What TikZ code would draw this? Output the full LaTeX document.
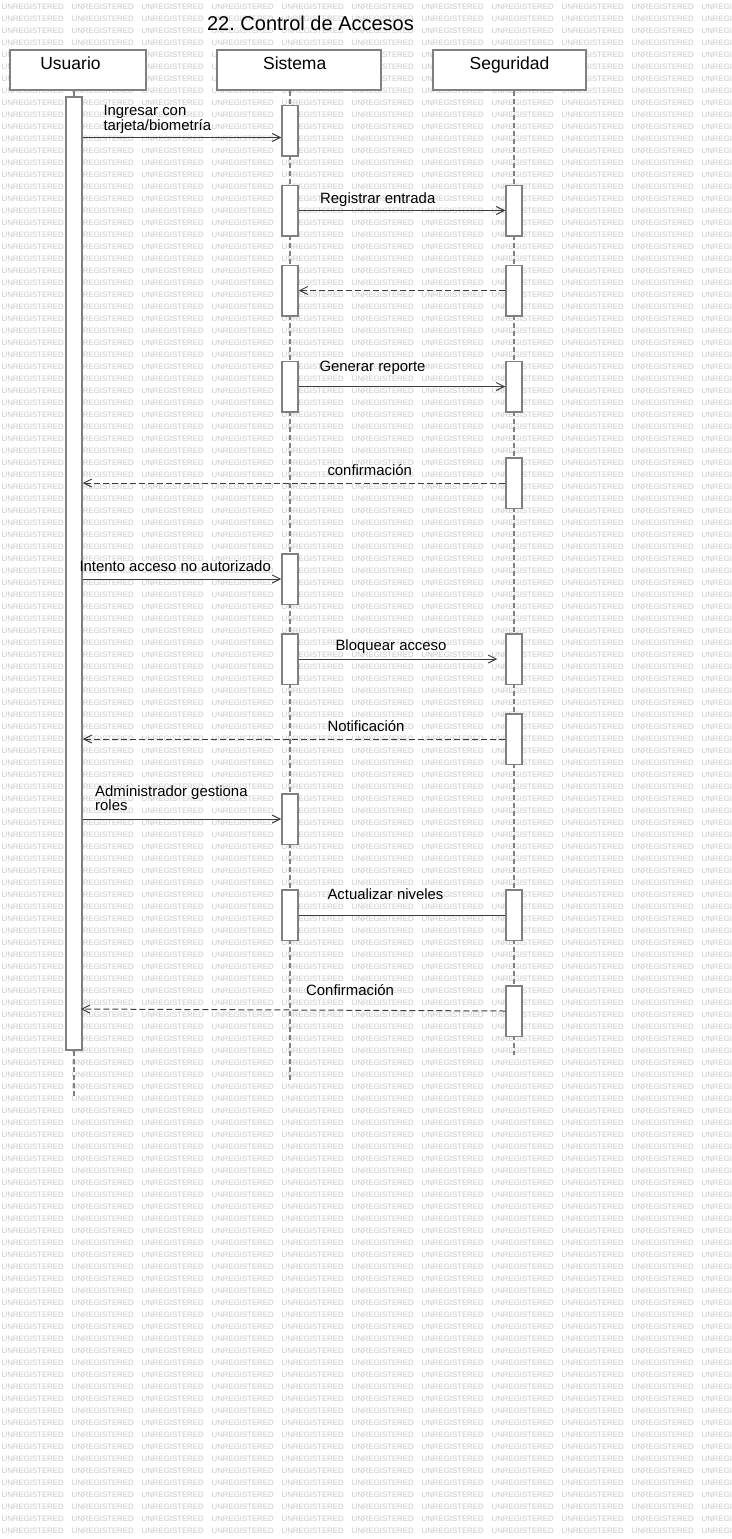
\documentclass[tikz,border=0pt]{standalone}
\usepackage{fontspec}
\setmainfont{Liberation Sans}
\usepackage{tikz}
\usetikzlibrary{arrows.meta}
\frenchspacing

\definecolor{linegray}{RGB}{128,128,128}
\definecolor{msggray}{RGB}{60,60,60}
\definecolor{wmgray}{RGB}{200,200,200}

\tikzset{
  actor/.style={draw=linegray, fill=white, line width=1.5pt, minimum height=40pt, inner sep=0pt},
  actorname/.style={anchor=base, inner sep=0pt, font=\fontsize{17.5}{21}\selectfont},
  bar/.style={draw=linegray, fill=white, line width=1.5pt, minimum width=16pt, minimum height=50.5pt, inner sep=0pt},
  lifeline/.style={draw=linegray, line width=1.5pt, dash pattern=on 5pt off 3pt},
  msg/.style={draw=msggray, line width=1pt, -{Straight Barb[length=8pt,width=8pt]}},
  reply/.style={msg, dash pattern=on 6pt off 3pt},
  msgtext/.style={anchor=base west, inner sep=0pt, font=\fontsize{14.9}{13.6}\selectfont},
  wmark/.style={anchor=base west, inner sep=0pt, text=wmgray, font=\fontsize{7.8}{9}\selectfont},
}

\begin{document}
\begin{tikzpicture}[x=1pt, y=-1pt]
    \fill[white] (0,0) rectangle (731,1539);
    \useasboundingbox (0,0) rectangle (731,1539);

    % watermark
    \foreach \r in {0,...,127}
        \foreach \c in {0,...,10}
            \node[wmark] (wm-\r-\c) at ({1.5+70*\c}, {9.3+12*\r}) {UNREGISTERED};

    \node[anchor=base, inner sep=0pt, font=\fontsize{20}{24}\selectfont] (title) at (310.5,30.5) {22. Control de Accesos};

    % lifelines
    \node[actor, minimum width=136pt] (usuario) at (78,70) {};
    \node[actor, minimum width=164pt] (sistema) at (299,70) {};
    \node[actor, minimum width=153pt] (seguridad) at (509.5,70) {};
    \node[actorname] (usuario-name) at (70.5,69) {Usuario};
    \node[actorname] (sistema-name) at (294.7,69) {Sistema};
    \node[actorname] (seguridad-name) at (509.5,69) {Seguridad};

    \coordinate (usuario-end) at (74,1098);
    \coordinate (sistema-end) at (290,1082);
    \coordinate (seguridad-end) at (514,1055);
    \draw[lifeline] (usuario-end |- usuario.south) -- (usuario-end);
    \draw[lifeline] (sistema-end |- sistema.south) -- (sistema-end);
    \draw[lifeline] (seguridad-end |- seguridad.south) -- (seguridad-end);

    % activation bars
    \node[bar, minimum height=953pt] (ub) at (74,573.5) {};
    \node[bar] (sis1) at (290,130.5) {};
    \node[bar] (sis2) at (290,210.5) {};
    \node[bar] (sis3) at (290,290.5) {};
    \node[bar] (sis4) at (290,386.5) {};
    \node[bar] (sis5) at (290,579) {};
    \node[bar] (sis6) at (290,659) {};
    \node[bar] (sis7) at (290,819) {};
    \node[bar] (sis8) at (290,915) {};
    \node[bar] (seg1) at (514,210.5) {};
    \node[bar] (seg2) at (514,290.5) {};
    \node[bar] (seg3) at (514,386.5) {};
    \node[bar] (seg4) at (514,483) {};
    \node[bar] (seg5) at (514,659) {};
    \node[bar] (seg6) at (514,739) {};
    \node[bar] (seg7) at (514,915) {};
    \node[bar] (seg8) at (514,1011) {};

    % messages
    \coordinate (m1) at ([yshift=-7pt]sis1.west);
    \path (ub.east |- seg8.west) ++(-2pt,2pt) coordinate (m11);
    \draw[msg] (ub.east |- m1) -- (m1);
    \draw[msg] (sis2.east) -- (seg1.west);
    \draw[reply] (seg2.west) -- (sis3.east);
    \draw[msg] (sis4.east) -- (seg3.west);
    \draw[reply] (seg4.west) -- (ub.east |- seg4.west);
    \draw[msg] (ub.east |- sis5.west) -- (sis5.west);
    \draw[msg] (sis6.east) -- ([xshift=-8pt]seg5.west);
    \draw[reply] (seg6.west) -- (ub.east |- seg6.west);
    \draw[msg] (ub.east |- sis7.west) -- (sis7.west);
    \draw[msg, -] (sis8.east) -- (seg7.west);
    \draw[reply] (seg8.west) -- (m11);

    % labels
    \node[msgtext, anchor=north west, align=left] (l-ingresar) at (103.3,105) {Ingresar con\\tarjeta/biometría};
    \node[msgtext] (l-registrar) at (320,203.4) {Registrar entrada};
    \node[msgtext] (l-reporte) at (319.3,371.2) {Generar reporte};
    \node[msgtext] (l-confirm1) at (327.3,475) {confirmación};
    \node[msgtext] (l-intento) at (79.3,571) {Intento acceso no autorizado};
    \node[msgtext] (l-bloquear) at (335.3,650.7) {Bloquear acceso};
    \node[msgtext] (l-notif) at (327.3,731.7) {Notificación};
    \node[msgtext, anchor=north west, align=left] (l-admin) at (95,785) {Administrador gestiona\\roles};
    \node[msgtext] (l-niveles) at (327.3,899.3) {Actualizar niveles};
    \node[msgtext] (l-confirm2) at (306,995.3) {Confirmación};
\end{tikzpicture}
\end{document}
